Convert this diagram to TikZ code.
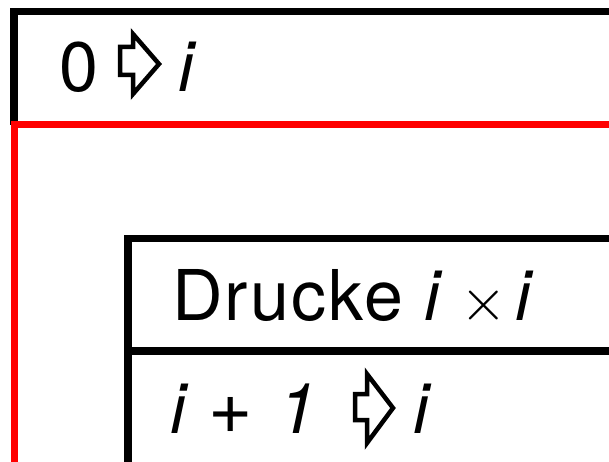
\documentclass[tikz,border=0pt]{standalone}
\usepackage{fontspec}
\setmainfont{TeX Gyre Heros}
\begin{document}
\begin{tikzpicture}[x=1pt,y=-1pt,
  txt/.style={inner sep=0pt,anchor=base west,font=\fontsize{70}{84}\selectfont},
  blk/.style={line width=7.5pt,draw=black},
  redl/.style={line width=7pt,draw=red},
  hollowarrow/.style={line width=4.5pt,draw=black,line join=miter}]
\useasboundingbox (0,0) rectangle (609,462);
% outer black block
\coordinate (o1) at (14,125);
\coordinate (o2) at (14,11.5);
\coordinate (o3) at (625,11.5);
\draw[blk] (o1) -- (o2) -- (o3);
% red loop block
\coordinate (r1) at (14,466);
\coordinate (r2) at (14,125);
\coordinate (r3) at (625,125);
\coordinate (r4) at (625,466);
\draw[redl] (r3) -- (r2) -- (r1) -- (r4);
% inner block
\coordinate (b1) at (128,470);
\coordinate (b2) at (128,238.5);
\coordinate (b3) at (625,238.5);
\coordinate (m1) at (128,351);
\coordinate (m2) at (625,351);
\draw[blk] (b1) -- (b2) -- (b3);
\draw[blk] (m1) -- (m2);
% texts
\node[txt] (t0) at (59,92) {0};
\node[txt] (ti0) at (178,92) {\itshape i};
\node[txt] (tdr) at (172,320) {\addfontfeature{LetterSpace=3}Drucke};
\node[txt] (ti1) at (424,320) {\itshape i};
\node[txt] (tx) at (460,320) {\fontsize{10}{12}\selectfont\scalebox{6}{$\times$}};
\node[txt] (ti2) at (515,320) {\itshape i};
\node[txt] (ti3) at (170,433) {\itshape i};
\node[txt] (tp) at (208,433) {\fontsize{76}{80}\selectfont +};
\node[txt] (t1) at (278,433) {\itshape 1};
\node[txt] (ti4) at (413,433) {\itshape i};
% hollow arrows
\draw[hollowarrow] (120,47) -- (133,47) -- (133,34) -- (159,64) -- (133,94) -- (133,75) -- (120,75) -- cycle;
\draw[hollowarrow] (355,394) -- (367,394) -- (367,374) -- (393,408) -- (367,443) -- (367,420) -- (355,420) -- cycle;
\end{tikzpicture}
\end{document}
